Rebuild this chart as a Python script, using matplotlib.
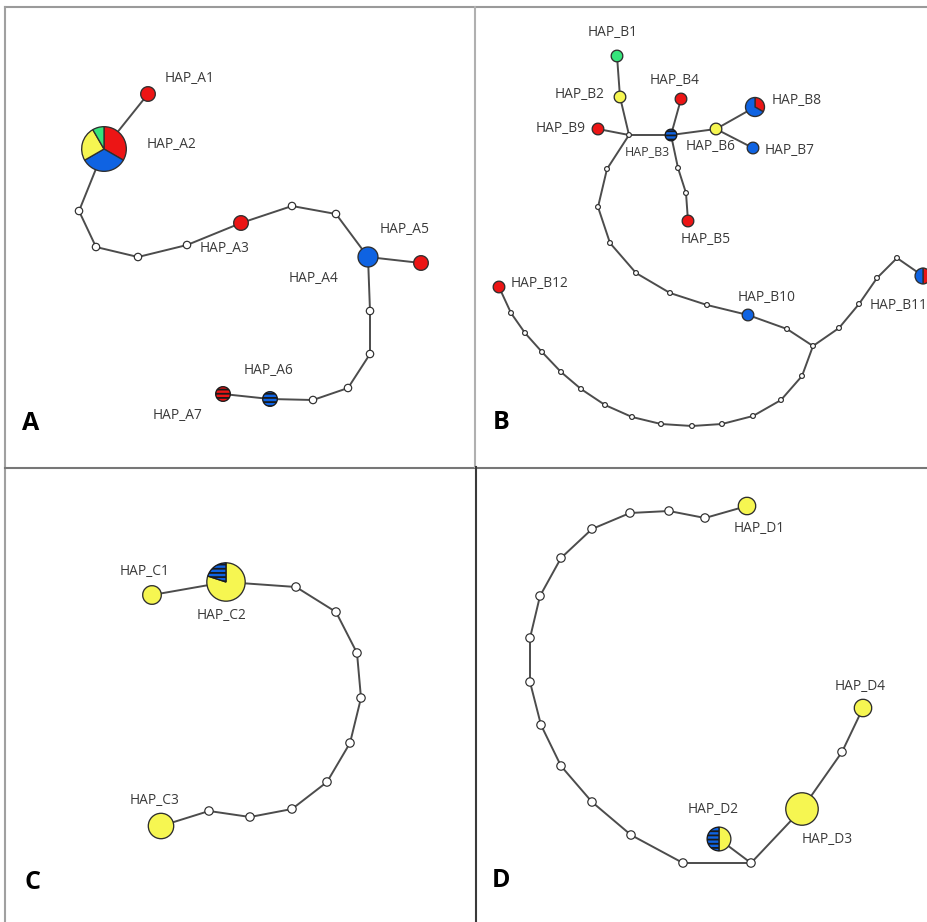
"""Haplotype networks, panels A-D, drawn with matplotlib patches."""
import matplotlib
matplotlib.use("Agg")  # no display
import matplotlib.pyplot as plt
from matplotlib.patches import Circle, Wedge

plt.rcParams["font.family"] = ["Open Sans", "DejaVu Sans"]
plt.rcParams["hatch.linewidth"] = 1.3

COLORS = {"red": "#ec1515", "blue": "#0f63e2", "yellow": "#f6f651", "green": "#35e47b"}
LINK = "#4c4c4c"
OUTLINE = "#2e2e2e"
TEXT = "#3a3a3a"

# ---- panel A (node centres in image pixels) ----
A_names = ["HAP_A1", "HAP_A2", "HAP_A3", "HAP_A4", "HAP_A5", "HAP_A6", "HAP_A7"]
A_x = [148, 104, 241, 368, 421, 270, 223]
A_y = [94, 149, 223, 257, 263, 399, 394]
A_parts = [
    [("red", 1)],
    [("red", 4), ("blue", 4), ("yellow", 3), ("green", 1)],
    [("red", 1)],
    [("blue", 2)],
    [("red", 1)],
    [("blue*", 1)],
    [("red*", 1)],
]
A_mv_x = [79, 96, 138, 187, 292, 336, 370, 370, 348, 313]
A_mv_y = [211, 247, 257, 245, 206, 214, 311, 354, 388, 400]
A_paths = [
    ["HAP_A1", "HAP_A2", 0, 1, 2, 3, "HAP_A3", 4, 5, "HAP_A4", "HAP_A5"],
    ["HAP_A4", 6, 7, 8, 9, "HAP_A6", "HAP_A7"],
]

# ---- panel B ----
B_names = ["HAP_B1", "HAP_B2", "HAP_B3", "HAP_B4", "HAP_B5", "HAP_B6",
           "HAP_B7", "HAP_B8", "HAP_B9", "HAP_B10", "HAP_B11", "HAP_B12"]
B_x = [617, 620, 671, 681, 688, 716, 753, 755, 598, 748, 923, 499]
B_y = [56, 97, 135, 99, 221, 129, 148, 107, 129, 315, 276, 287]
B_parts = [
    [("green", 1)],
    [("yellow", 1)],
    [("blue*", 1)],
    [("red", 1)],
    [("red", 1)],
    [("yellow", 1)],
    [("blue", 1)],
    [("red", 1), ("blue", 2)],
    [("red", 1)],
    [("blue", 1)],
    [("red", 1), ("blue", 1)],
    [("red", 1)],
]
B_mv_x = [629, 678, 686, 607, 598, 610, 636, 670, 707, 787, 813, 839, 859, 877, 897,
          802, 781, 753, 722, 692, 661, 632, 605, 581, 561, 542, 525, 511]
B_mv_y = [135, 168, 193, 169, 207, 243, 273, 293, 305, 329, 346, 328, 304, 278, 258,
          376, 400, 416, 424, 426, 424, 417, 405, 389, 372, 352, 333, 313]
B_paths = [
    ["HAP_B1", "HAP_B2", 0, "HAP_B3", "HAP_B6", "HAP_B8"],
    ["HAP_B9", 0],
    ["HAP_B3", "HAP_B4"],
    ["HAP_B6", "HAP_B7"],
    ["HAP_B3", 1, 2, "HAP_B5"],
    [0, 3, 4, 5, 6, 7, 8, "HAP_B10", 9, 10, 11, 12, 13, 14, "HAP_B11"],
    [10, 15, 16, 17, 18, 19, 20, 21, 22, 23, 24, 25, 26, 27, "HAP_B12"],
]

# ---- panel C ----
C_names = ["HAP_C1", "HAP_C2", "HAP_C3"]
C_x = [152, 226, 161]
C_y = [595, 582, 826]
C_parts = [
    [("yellow", 1)],
    [("yellow", 4), ("blue*", 1)],
    [("yellow", 2)],
]
C_mv_x = [296, 336, 357, 361, 350, 327, 292, 250, 209]
C_mv_y = [587, 612, 653, 698, 743, 782, 809, 817, 811]
C_paths = [["HAP_C1", "HAP_C2", 0, 1, 2, 3, 4, 5, 6, 7, 8, "HAP_C3"]]

# ---- panel D ----
D_names = ["HAP_D1", "HAP_D2", "HAP_D3", "HAP_D4"]
D_x = [747, 719, 802, 863]
D_y = [506, 839, 809, 708]
D_parts = [
    [("yellow", 1)],
    [("yellow", 1), ("blue*", 1)],
    [("yellow", 4)],
    [("yellow", 1)],
]
D_mv_x = [705, 669, 630, 592, 561, 540, 530, 530, 541, 561, 592, 631, 683, 751, 842]
D_mv_y = [518, 511, 513, 529, 558, 596, 638, 682, 725, 766, 802, 835, 863, 863, 752]
D_paths = [
    ["HAP_D1", 0, 1, 2, 3, 4, 5, 6, 7, 8, 9, 10, 11, 12, 13, "HAP_D3", 14, "HAP_D4"],
    [13, "HAP_D2"],
]

# label anchors (left edge, middle) and panel letters -- layout only
LABEL_XY = {
    "HAP_A1": (165, 78), "HAP_A2": (147, 145), "HAP_A3": (200, 248),
    "HAP_A4": (289, 278), "HAP_A5": (380, 229), "HAP_A6": (244, 370),
    "HAP_A7": (153, 415),
    "HAP_B1": (588, 33), "HAP_B2": (555, 94), "HAP_B3": (625, 152),
    "HAP_B4": (650, 80), "HAP_B5": (681, 239), "HAP_B6": (686, 147),
    "HAP_B7": (765, 151), "HAP_B8": (772, 101), "HAP_B9": (536, 128),
    "HAP_B10": (738, 297), "HAP_B11": (870, 305), "HAP_B12": (511, 283),
    "HAP_C1": (120, 571), "HAP_C2": (197, 615), "HAP_C3": (130, 800),
    "HAP_D1": (734, 528), "HAP_D2": (688, 809), "HAP_D3": (802, 839),
    "HAP_D4": (835, 686),
}
LETTER_XY = {"A": (22, 423), "B": (493, 422), "C": (25, 882), "D": (492, 880)}


def draw_network(ax, names, xs, ys, parts, mv_x, mv_y, paths, base_r, mv_r):
    pos = {n: (x, y) for n, x, y in zip(names, xs, ys)}
    pos.update({i: (x, y) for i, (x, y) in enumerate(zip(mv_x, mv_y))})

    for path in paths:
        ax.plot([pos[k][0] for k in path], [pos[k][1] for k in path],
                color=LINK, lw=1.4, zorder=1)

    for x, y in zip(mv_x, mv_y):
        ax.add_patch(Circle((x, y), mv_r, fc="white", ec=OUTLINE, lw=0.85, zorder=3))

    for name, x, y, comp in zip(names, xs, ys, parts):
        total = sum(c for _, c in comp)
        r = base_r * total ** 0.45
        start = 90.0  # screen angle, slices run clockwise
        for key, count in comp:
            sweep = 360.0 * count / total
            hatched = key.endswith("*")
            # y axis is flipped, so clockwise on screen is counter-clockwise in data
            ax.add_patch(Wedge((x, y), r, -start, -start + sweep,
                               fc=COLORS[key.rstrip("*")],
                               ec="#1a1a1a" if hatched else OUTLINE, lw=0.95,
                               hatch="----" if hatched else None, zorder=4))
            start -= sweep
        lx, ly = LABEL_XY[name]
        ax.text(lx, ly, name, ha="left", va="center", color=TEXT,
                fontsize=9.0 if name == "HAP_B3" else 9.9, zorder=5)


fig = plt.figure(figsize=(9.28, 9.22), dpi=100)
ax = fig.add_axes([0, 0, 1, 1])
ax.set_xlim(0, 928)
ax.set_ylim(922, 0)
ax.axis("off")

# panel frame
ax.plot([5, 928], [7.5, 7.5], color="#9a9a9a", lw=1.5)
ax.plot([5.5, 5.5], [7, 922], color="#a0a0a0", lw=1.5)
ax.plot([5, 928], [467.5, 467.5], color="#777777", lw=1.5)
ax.plot([475, 475], [7, 467], color="#b0b0b0", lw=1.5)
ax.plot([476, 476], [467, 922], color="#3a3a3a", lw=1.5)

draw_network(ax, A_names, A_x, A_y, A_parts, A_mv_x, A_mv_y, A_paths, 7.3, 3.7)
draw_network(ax, B_names, B_x, B_y, B_parts, B_mv_x, B_mv_y, B_paths, 5.8, 2.4)
draw_network(ax, C_names, C_x, C_y, C_parts, C_mv_x, C_mv_y, C_paths, 9.3, 4.2)
draw_network(ax, D_names, D_x, D_y, D_parts, D_mv_x, D_mv_y, D_paths, 8.7, 4.2)

for letter, (lx, ly) in LETTER_XY.items():
    ax.text(lx, ly, letter, ha="left", va="center", fontsize=18,
            fontweight="bold", color="black")

fig.savefig("out.png", dpi=100)
plt.close(fig)
